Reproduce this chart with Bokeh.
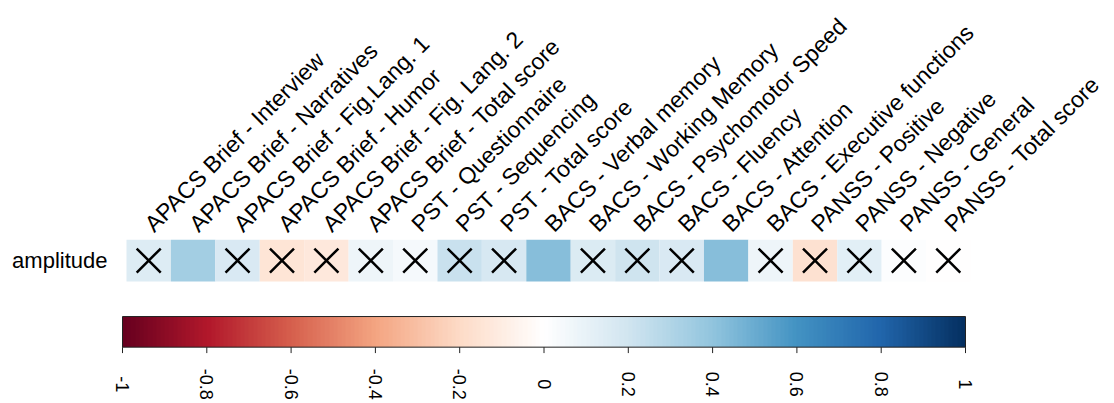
import math
import numpy as np
from bokeh.plotting import figure
from bokeh.models import (Range1d, FixedTicker, LinearColorMapper, ColumnDataSource, LinearAxis)
from bokeh.transform import transform
from bokeh.core.properties import value
from bokeh.embed import file_html
from bokeh.resources import INLINE

# ---------------- data ----------------
variables = [
    "APACS Brief - Interview",
    "APACS Brief - Narratives",
    "APACS Brief - Fig.Lang. 1",
    "APACS Brief - Humor",
    "APACS Brief - Fig. Lang. 2",
    "APACS Brief - Total score",
    "PST - Questionnaire",
    "PST - Sequencing",
    "PST - Total score",
    "BACS - Verbal memory",
    "BACS - Working Memory",
    "BACS - Psychomotor Speed",
    "BACS - Fluency",
    "BACS - Attention",
    "BACS - Executive functions",
    "PANSS - Positive",
    "PANSS - Negative",
    "PANSS - General",
    "PANSS - Total score",
]
correlation = [0.15, 0.34, 0.17, -0.15, -0.13, 0.07, 0.04, 0.22, 0.18, 0.42,
               0.16, 0.20, 0.17, 0.42, 0.07, -0.17, 0.13, 0.01, -0.01]
significant = [False, True, False, False, False, False, False, False, False, True,
               False, False, False, True, False, False, False, False, False]
row_label = "amplitude"
colorbar_ticks = [-1, -0.8, -0.6, -0.4, -0.2, 0, 0.2, 0.4, 0.6, 0.8, 1]
colorbar_labels = ["-1", "-0.8", "-0.6", "-0.4", "-0.2", "0", "0.2", "0.4", "0.6", "0.8", "1"]

# ---------------- palette (corrplot RdBu, 200 steps) ----------------
anchors = ["#67001F", "#B2182B", "#D6604D", "#F4A582", "#FDDBC7", "#FFFFFF",
           "#D1E5F0", "#92C5DE", "#4393C3", "#2166AC", "#053061"]
def _rgb(h):
    return [int(h[i:i + 2], 16) for i in (1, 3, 5)]
arr = np.array([_rgb(h) for h in anchors], dtype=float)
pos = np.linspace(0, 1, len(anchors))
t = np.linspace(0, 1, 200)
palette = ["#%02x%02x%02x" % tuple(int(round(np.interp(tt, pos, arr[:, c]))) for c in range(3)) for tt in t]
mapper = LinearColorMapper(palette=palette, low=colorbar_ticks[0], high=colorbar_ticks[-1])

# ---------------- layout constants (pixels) ----------------
W, H = 1108, 400
frame_left, frame_right = 112, 982
frame_top, frame_bottom = 237, 400
cells_left_px, cells_right_px = 126, 970
cell_w_px = (cells_right_px - cells_left_px) / len(variables)
cell_h_px = 42.6
cb_left_px, cb_right_px = 122, 965
cb_top_px, cb_bottom_px = 315, 346
tick_len_px = 6
cb_label_center_px = 383.5

n = len(variables)
x_lo = -0.5 - (cells_left_px - frame_left) / cell_w_px
x_hi = n - 0.5 + (frame_right - cells_right_px) / cell_w_px
y_hi = 0.5
y_lo = y_hi - (frame_bottom - frame_top) / cell_h_px
def ypx(py):
    return y_hi - (py - frame_top) / cell_h_px
cb_y_top = ypx(cb_top_px)
cb_y_bot = ypx(cb_bottom_px)
tick_y_end = ypx(cb_bottom_px + tick_len_px)
label_y = ypx(cb_label_center_px)

lo, hi = colorbar_ticks[0], colorbar_ticks[-1]
cb_scale = (cb_right_px - cb_left_px) / (hi - lo)
cb_range = Range1d(lo - (cb_left_px - frame_left) / cb_scale, hi + (frame_right - cb_right_px) / cb_scale)

FONT = "Liberation Sans"

p = figure(width=W, height=H, x_range=Range1d(x_lo, x_hi), y_range=Range1d(y_lo, y_hi),
           output_backend="svg", toolbar_location=None,
           x_axis_location=None, y_axis_location=None,
           min_border_left=frame_left, min_border_right=W - frame_right,
           min_border_top=frame_top, min_border_bottom=H - frame_bottom)
p.extra_x_ranges = {"cbar": cb_range}
p.outline_line_color = None
p.grid.visible = False
p.background_fill_color = "white"
p.border_fill_color = "white"

# cells
idx = list(range(n))
src = ColumnDataSource(dict(x=idx, y=[0] * n, value=correlation))
p.rect(x="x", y="y", width=1, height=1, source=src,
       fill_color=transform("value", mapper), line_color=None)

# X marks for non-significant cells
xs = [i for i, s in zip(idx, significant) if not s]
p.scatter(x=xs, y=[0] * len(xs), marker="x", size=34, line_color="black", line_width=2.5)

# colorbar
grad = np.linspace(lo, hi, 400).reshape(1, -1)
p.image(image=[grad], x=lo, y=cb_y_bot, dw=hi - lo, dh=cb_y_top - cb_y_bot,
        color_mapper=mapper, x_range_name="cbar")
p.quad(left=lo, right=hi, bottom=cb_y_bot, top=cb_y_top, fill_color=None,
       line_color="#222222", line_width=1, x_range_name="cbar")
p.segment(x0=colorbar_ticks, x1=colorbar_ticks, y0=[cb_y_bot] * len(colorbar_ticks),
          y1=[tick_y_end] * len(colorbar_ticks), line_color="#222222", line_width=1,
          x_range_name="cbar")
p.text(x=colorbar_ticks, y=[label_y] * len(colorbar_ticks), text=colorbar_labels,
       angle=-math.pi / 2, text_align="center", text_baseline="middle",
       text_font=value(FONT), text_font_size="18px", text_color="black",
       x_range_name="cbar")

# top axis: variable names
top = LinearAxis(ticker=FixedTicker(ticks=idx),
                 major_label_overrides={i: v for i, v in zip(idx, variables)})
top.axis_line_color = None
top.major_tick_line_color = None
top.minor_tick_line_color = None
top.major_label_orientation = math.pi / 4
top.major_label_standoff = 6
top.major_label_text_font = FONT
top.major_label_text_font_size = "23px"
top.major_label_text_color = "black"
p.add_layout(top, "above")

# left axis: row label
left = LinearAxis(ticker=FixedTicker(ticks=[0]), major_label_overrides={0: row_label})
left.axis_line_color = None
left.major_tick_line_color = None
left.minor_tick_line_color = None
left.major_tick_out = 0
left.major_tick_in = 0
left.major_label_standoff = 5
left.major_label_text_font = FONT
left.major_label_text_font_size = "22px"
left.major_label_text_color = "black"
p.add_layout(left, "left")

open("out.html", "w").write(file_html(p, INLINE))
